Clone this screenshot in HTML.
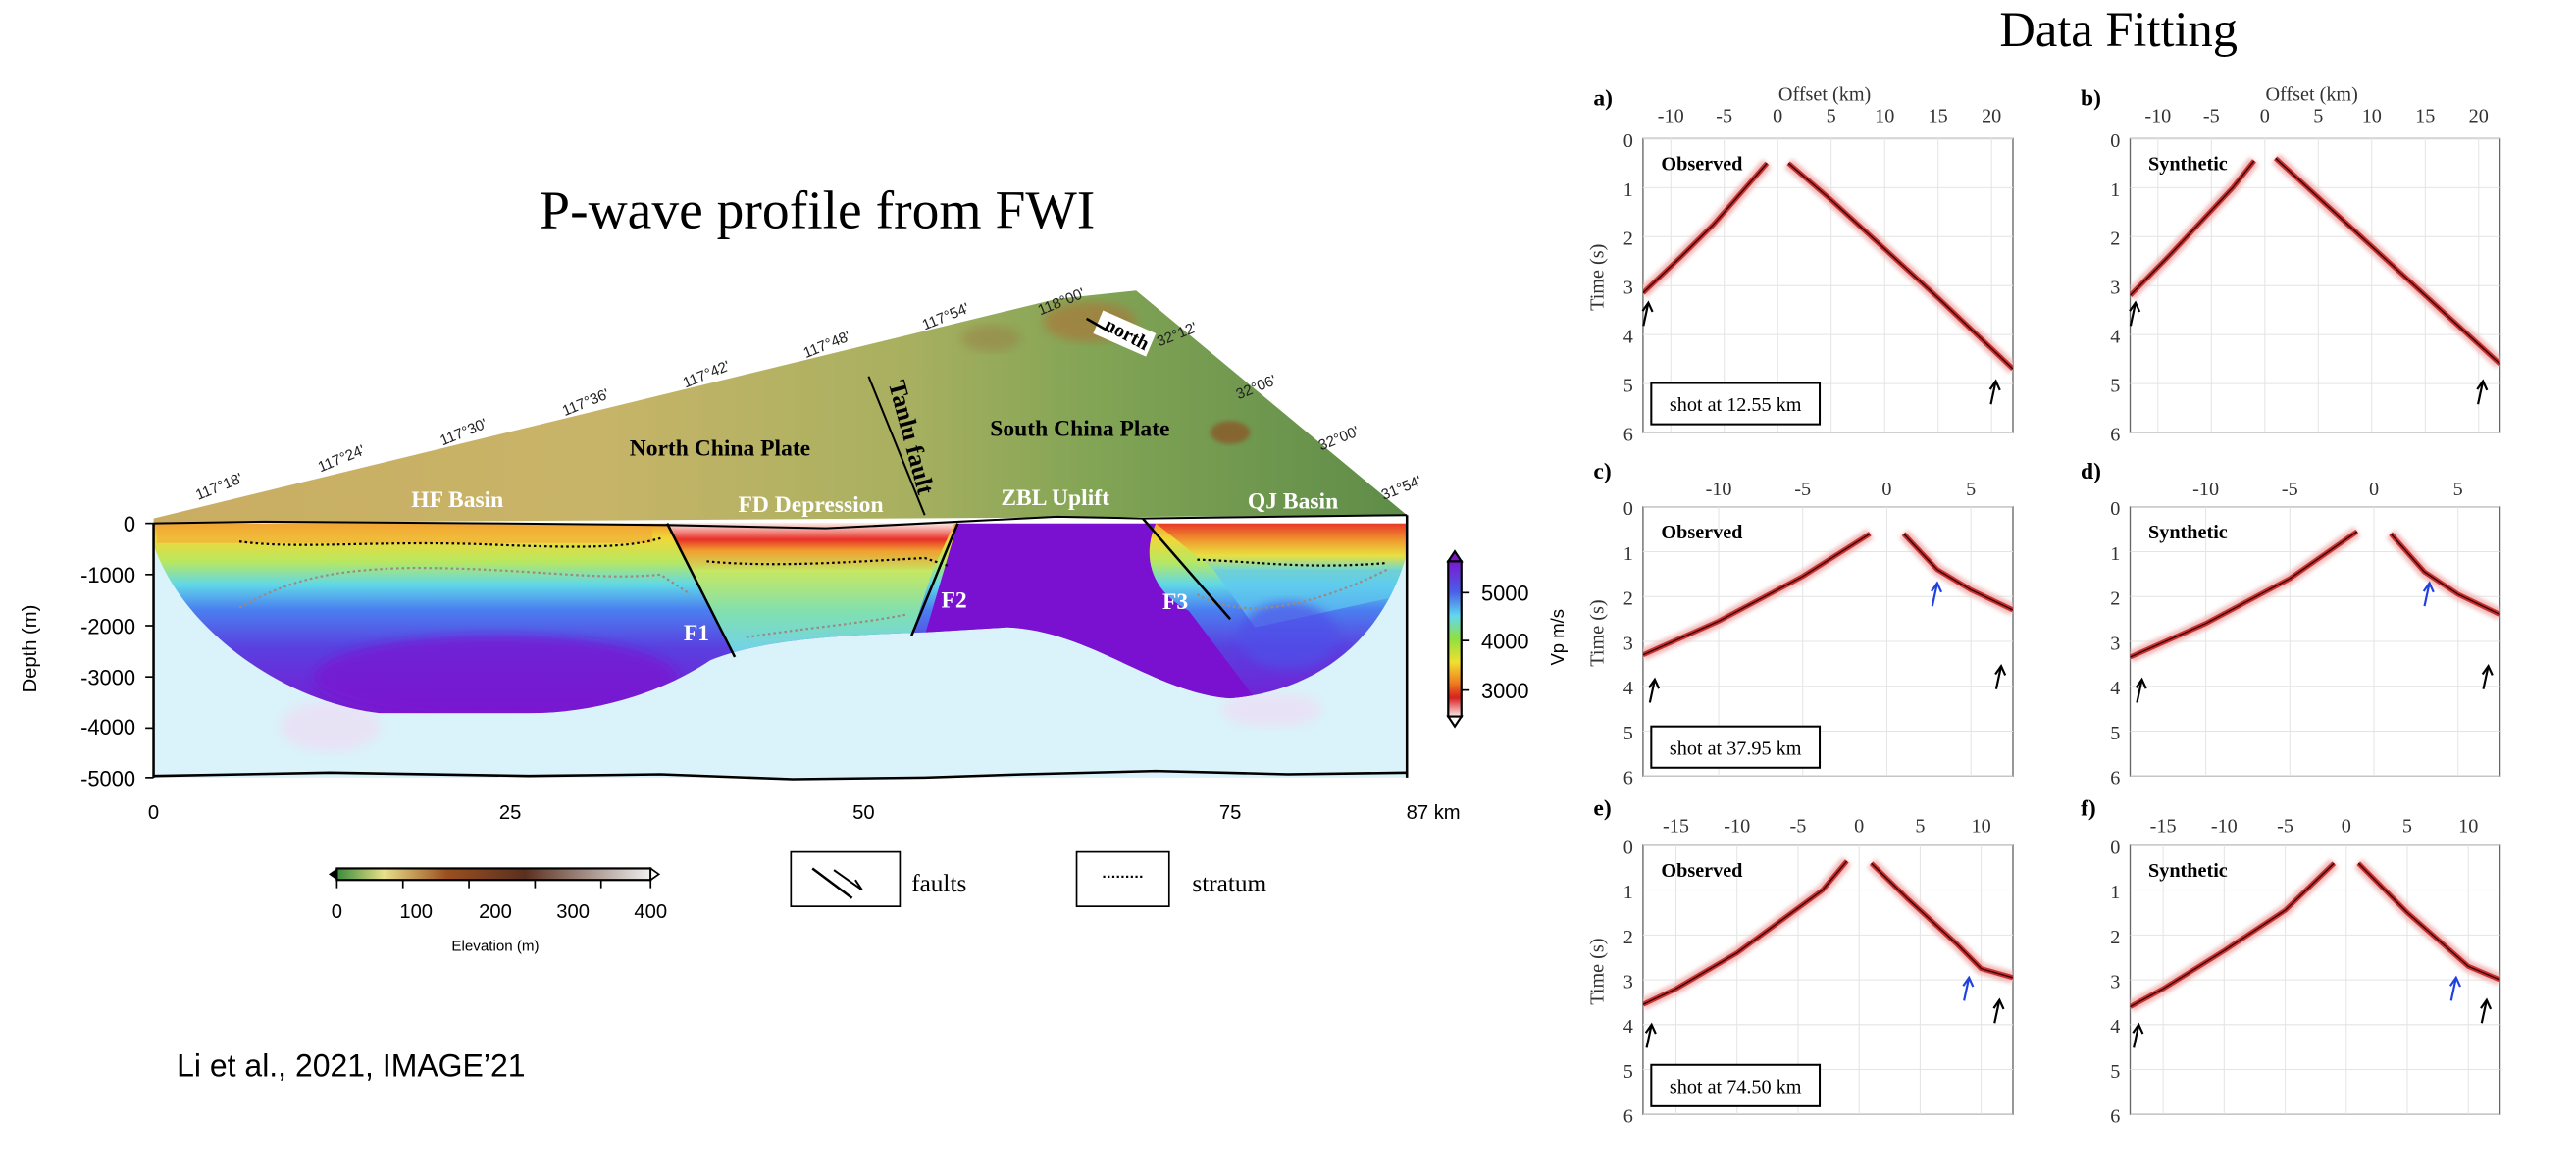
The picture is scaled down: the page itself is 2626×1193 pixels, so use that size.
<!DOCTYPE html>
<html><head><meta charset="utf-8"><style>
html,body{margin:0;padding:0;background:#fff;width:2626px;height:1193px;overflow:hidden}
svg{display:block}
.serif{font-family:"Liberation Serif",serif}
.sans{font-family:"Liberation Sans",sans-serif}
</style></head><body>
<svg id="fig" width="2626" height="1193" viewBox="0 0 1560 708.7" preserveAspectRatio="none" xmlns="http://www.w3.org/2000/svg">
<defs>
<linearGradient id="terr" x1="0" y1="0" x2="1" y2="0">
<stop offset="0" stop-color="#c9ad62"/><stop offset="0.35" stop-color="#c8b468"/><stop offset="0.6" stop-color="#a8b060"/><stop offset="0.75" stop-color="#82a455"/><stop offset="1" stop-color="#5e8c48"/></linearGradient>
<linearGradient id="vel" x1="0" y1="0" x2="0" y2="1">
<stop offset="0" stop-color="#f4a030"/><stop offset="0.08" stop-color="#f0d838"/><stop offset="0.2" stop-color="#b8e860"/><stop offset="0.32" stop-color="#60d8e8"/><stop offset="0.45" stop-color="#4a80f0"/><stop offset="0.65" stop-color="#5a40e0"/><stop offset="1" stop-color="#7a18d0"/></linearGradient>
<linearGradient id="fd" x1="0" y1="0" x2="0" y2="1">
<stop offset="0" stop-color="#fbe8e0"/><stop offset="0.35" stop-color="#e83028"/><stop offset="0.6" stop-color="#f0a030"/><stop offset="1" stop-color="#c8e060"/></linearGradient>
<linearGradient id="fdlow" x1="0" y1="0" x2="0" y2="1">
<stop offset="0" stop-color="#c8e860"/><stop offset="0.5" stop-color="#80e0b0"/><stop offset="1" stop-color="#70d0f0"/></linearGradient>
<linearGradient id="qj" x1="0" y1="0" x2="0" y2="1">
<stop offset="0" stop-color="#e83828"/><stop offset="0.4" stop-color="#f0a030"/><stop offset="0.7" stop-color="#e8e040"/><stop offset="1" stop-color="#70d8d0"/></linearGradient>
<linearGradient id="vpbar" x1="0" y1="0" x2="0" y2="1">
<stop offset="0" stop-color="#7a18d0"/><stop offset="0.2" stop-color="#4a60e8"/><stop offset="0.35" stop-color="#60d8f0"/><stop offset="0.5" stop-color="#90e040"/><stop offset="0.65" stop-color="#f0e030"/><stop offset="0.78" stop-color="#f08020"/><stop offset="0.88" stop-color="#d82020"/><stop offset="1" stop-color="#fbeaea"/></linearGradient>
<linearGradient id="elbar" x1="0" y1="0" x2="1" y2="0">
<stop offset="0" stop-color="#3a8a3a"/><stop offset="0.15" stop-color="#e8e08a"/><stop offset="0.35" stop-color="#9a5020"/><stop offset="0.6" stop-color="#5a3020"/><stop offset="1" stop-color="#f0f0f0"/></linearGradient>
<clipPath id="uclip"><path d="M93,317 L852,317 L852,335 C840,380 805,418 745,423 C700,420 660,382 610,380 L560,383 C500,385 460,388 430,400 C400,420 360,432 320,432 L230,432 C170,425 110,380 93,330 Z"/></clipPath>
<filter id="blur1"><feGaussianBlur stdDeviation="1.2"/></filter>
<filter id="blur3"><feGaussianBlur stdDeviation="3"/></filter>
</defs>

<text class="serif" x="495" y="138" font-size="33" text-anchor="middle">P-wave profile from FWI</text>
<text class="serif" x="1283" y="28" font-size="30" text-anchor="middle">Data Fitting</text>

<g>
<path d="M93,314 L640,181 L688,176 L852,312 L93,317 Z" fill="url(#terr)"/>
<ellipse cx="660" cy="195" rx="28" ry="12" fill="#a8783a" opacity="0.7" filter="url(#blur3)"/>
<ellipse cx="745" cy="262" rx="12" ry="7" fill="#8a5a2a" opacity="0.8" filter="url(#blur1)"/>
<ellipse cx="600" cy="205" rx="18" ry="8" fill="#9a6a3a" opacity="0.35" filter="url(#blur3)"/>
</g>
<g class="sans" font-size="9" fill="#222">
<text transform="translate(120,303) rotate(-22)">117°18'</text>
<text transform="translate(194,286) rotate(-22)">117°24'</text>
<text transform="translate(268,270) rotate(-22)">117°30'</text>
<text transform="translate(342,252) rotate(-22)">117°36'</text>
<text transform="translate(415,235) rotate(-22)">117°42'</text>
<text transform="translate(488,217) rotate(-22)">117°48'</text>
<text transform="translate(560,200) rotate(-22)">117°54'</text>
<text transform="translate(630,191) rotate(-22)">118°00'</text>
</g>
<g class="sans" font-size="9" fill="#222">
<text transform="translate(702,210) rotate(-22)">32°12'</text>
<text transform="translate(750,242) rotate(-22)">32°06'</text>
<text transform="translate(800,273) rotate(-22)">32°00'</text>
<text transform="translate(838,303) rotate(-22)">31°54'</text>
</g>
<g>
<polygon points="668,188 700,202 694,216 662,202" fill="#fff"/>
<text class="serif" font-weight="bold" font-size="12" transform="translate(668,199) rotate(28)">north</text>
<line x1="672" y1="201" x2="658" y2="193" stroke="#000" stroke-width="1.5"/>
</g>
<line x1="526" y1="228" x2="560" y2="312" stroke="#000" stroke-width="1.2"/>
<text class="serif" font-weight="bold" font-size="15" transform="translate(538,232) rotate(75)">Tanlu fault</text>
<text class="serif" font-weight="bold" font-size="14" x="436" y="276" text-anchor="middle">North China Plate</text>
<text class="serif" font-weight="bold" font-size="14" x="654" y="264" text-anchor="middle">South China Plate</text>
<g class="serif" font-weight="bold" font-size="14" fill="#fff" text-anchor="middle">
<text x="277" y="307">HF Basin</text>
<text x="491" y="310">FD Depression</text>
<text x="639" y="306">ZBL Uplift</text>
<text x="783" y="308">QJ Basin</text>
</g>

<g>
<rect x="93" y="317" width="759" height="154" fill="#daf2f9"/>
<ellipse cx="200" cy="440" rx="30" ry="15" fill="#f2d8f4" opacity="0.6" filter="url(#blur3)"/>
<ellipse cx="770" cy="430" rx="30" ry="10" fill="#f2d8f4" opacity="0.6" filter="url(#blur3)"/>
<g clip-path="url(#uclip)">
<rect x="93" y="317" width="759" height="116" fill="url(#vel)"/>
<path d="M580,317 L700,317 C690,340 700,360 720,370 L760,423 L600,423 L560,385 Z" fill="#7a10d0"/>
<path d="M418,345 L565,345 L552,385 L445,397 Z" fill="url(#fdlow)"/>
<path d="M405,317 L578,317 L565,345 L418,345 Z" fill="url(#fd)"/>
<path d="M700,317 L852,317 L852,345 L735,345 Z" fill="url(#qj)"/>
<path d="M735,345 L852,345 L852,360 L760,380 Z" fill="#60c8f0" opacity="0.7"/>
<rect x="95" y="317" width="300" height="12" fill="#f0a838" opacity="0.6"/>
<ellipse cx="300" cy="410" rx="110" ry="25" fill="#7a18d0" opacity="0.7" filter="url(#blur3)"/>
<ellipse cx="780" cy="385" rx="30" ry="20" fill="#5050e8" opacity="0.7" filter="url(#blur3)"/>
</g>
<path d="M93,317 L160,316 L300,317 L405,318 L500,320 L580,316 L640,313 L692,314 L852,312" fill="none" stroke="#000" stroke-width="1.2"/>
<path d="M93,470 L200,468 L320,470 L400,469 L480,472 L560,471 L620,469 L700,467 L780,469 L852,468" fill="none" stroke="#000" stroke-width="1.5"/>
<g stroke="#000" stroke-width="1.3" stroke-dasharray="1.5,1.8" fill="none">
<path d="M145,328 C180,333 230,327 300,330 C350,332 380,332 400,326"/>
<path d="M428,340 C470,344 520,340 560,338 L575,343"/>
<path d="M725,339 C760,340 790,345 840,341"/>
</g>
<g stroke="#9a8a80" stroke-width="1.3" stroke-dasharray="1.5,1.8" fill="none">
<path d="M145,368 C170,355 190,345 250,344 C320,344 360,352 400,348 L418,360"/>
<path d="M452,386 C490,380 520,378 550,372"/>
<path d="M725,360 C750,375 790,370 840,345"/>
</g>
<g stroke="#000" stroke-width="1.5">
<line x1="404" y1="317" x2="445" y2="398"/>
<line x1="580" y1="317" x2="552" y2="385"/>
<line x1="692" y1="314" x2="745" y2="375"/>
</g>
<g class="serif" font-weight="bold" font-size="14" fill="#fff">
<text x="414" y="388">F1</text>
<text x="570" y="368">F2</text>
<text x="704" y="369">F3</text>
</g>
<line x1="93" y1="317" x2="93" y2="471" stroke="#000" stroke-width="1.5"/>
<line x1="852" y1="312" x2="852" y2="471" stroke="#000" stroke-width="1.5"/>
</g>
<g class="sans" font-size="13" text-anchor="end">
<text x="82" y="322">0</text><text x="82" y="353">-1000</text><text x="82" y="384">-2000</text><text x="82" y="415">-3000</text><text x="82" y="445">-4000</text><text x="82" y="476">-5000</text>
</g>
<g stroke="#000" stroke-width="1"><line x1="88" y1="317" x2="93" y2="317"/><line x1="88" y1="348" x2="93" y2="348"/><line x1="88" y1="379" x2="93" y2="379"/><line x1="88" y1="410" x2="93" y2="410"/><line x1="88" y1="441" x2="93" y2="441"/><line x1="88" y1="471" x2="93" y2="471"/></g>
<text class="sans" font-size="12" transform="translate(22,393) rotate(-90)" text-anchor="middle">Depth (m)</text>
<g class="sans" font-size="12" text-anchor="middle">
<text x="93" y="496">0</text><text x="309" y="496">25</text><text x="523" y="496">50</text><text x="745" y="496">75</text><text x="868" y="496">87 km</text>
</g>

<g>
<rect x="877" y="340" width="8" height="94" fill="url(#vpbar)" stroke="#000" stroke-width="1.3"/>
<polygon points="877,340 881,334 885,340" fill="#7a18d0" stroke="#000" stroke-width="1.3"/>
<polygon points="877,434 881,440 885,434" fill="#fff" stroke="#000" stroke-width="1.3"/>
<g stroke="#000"><line x1="885" y1="359" x2="890" y2="359"/><line x1="885" y1="388" x2="890" y2="388"/><line x1="885" y1="418" x2="890" y2="418"/></g>
<g class="sans" font-size="13"><text x="897" y="364">5000</text><text x="897" y="393">4000</text><text x="897" y="423">3000</text></g>
<text class="sans" font-size="11" transform="translate(947,386) rotate(-90)" text-anchor="middle">Vp m/s</text>
</g>

<g>
<rect x="204" y="526" width="190" height="7" fill="url(#elbar)" stroke="#000" stroke-width="1.3"/>
<polygon points="204,526 199,529.5 204,533" fill="#000"/>
<polygon points="394,526 399,529.5 394,533" fill="#fff" stroke="#000"/>
<g stroke="#000"><line x1="204" y1="533" x2="204" y2="538"/><line x1="244" y1="533" x2="244" y2="538"/><line x1="284" y1="533" x2="284" y2="538"/><line x1="324" y1="533" x2="324" y2="538"/><line x1="364" y1="533" x2="364" y2="538"/><line x1="394" y1="533" x2="394" y2="538"/></g>
<g class="sans" font-size="12" text-anchor="middle"><text x="204" y="556">0</text><text x="252" y="556">100</text><text x="300" y="556">200</text><text x="347" y="556">300</text><text x="394" y="556">400</text></g>
<text class="sans" font-size="9" x="300" y="576" text-anchor="middle">Elevation (m)</text>
</g>
<g>
<rect x="479" y="516" width="66" height="33" fill="none" stroke="#000"/>
<line x1="492" y1="526" x2="516" y2="544" stroke="#000" stroke-width="1.5"/>
<path d="M505,527 L522,539 L518,533" fill="none" stroke="#000" stroke-width="1.2"/>
<text class="serif" font-size="15" x="552" y="540">faults</text>
</g>
<g>
<rect x="652" y="516" width="56" height="33" fill="none" stroke="#000"/>
<line x1="668" y1="531" x2="693" y2="531" stroke="#000" stroke-width="1.3" stroke-dasharray="1.3,1.5"/>
<text class="serif" font-size="15" x="722" y="540">stratum</text>
</g>
<text class="sans" font-size="19" x="107" y="652">Li et al., 2021, IMAGE’21</text>

<g id="panels"></g>
</svg>
<script>
const panelLetters = ["a)","b)","c)","d)","e)","f)"];
const panelTitles = ["Observed","Synthetic","Observed","Synthetic","Observed","Synthetic"];
const shotLabels = ["shot at 12.55 km","","shot at 37.95 km","","shot at 74.50 km",""];
const offsetRanges = [[-12.6,22],[-12.6,22],[-14.5,7.5],[-14.5,7.5],[-17.7,12.6],[-17.7,12.6]];
const offsetTicks = [[-10,-5,0,5,10,15,20],[-10,-5,0,5,10,15,20],[-10,-5,0,5],[-10,-5,0,5],[-15,-10,-5,0,5,10],[-15,-10,-5,0,5,10]];
const timeTicks = [0,1,2,3,4,5,6];
const leftOffsets = [
 [-1,-3,-6,-9,-12.6],[-1,-3,-6,-9,-12.6],
 [-1,-5,-10,-14.5],[-1,-5,-10,-14.5],
 [-1,-3,-6,-10,-15,-17.7],[-1,-5,-10,-15,-17.7]];
const leftTimes = [
 [0.5,1.0,1.75,2.4,3.15],[0.45,1.0,1.7,2.4,3.2],
 [0.6,1.55,2.55,3.3],[0.55,1.6,2.6,3.35],
 [0.35,1.0,1.6,2.4,3.2,3.55],[0.4,1.45,2.35,3.2,3.6]];
const rightOffsets = [
 [1,5,10,15,22],[1,5,10,15,22],
 [1,3,5,7.5],[1,3,5,7.5],
 [1,4,8,10,12.6],[1,5,10,12.6]];
const rightTimes = [
 [0.5,1.25,2.25,3.25,4.7],[0.4,1.2,2.2,3.2,4.6],
 [0.6,1.4,1.85,2.3],[0.6,1.45,1.95,2.4],
 [0.4,1.2,2.2,2.75,2.95],[0.4,1.5,2.7,3.0]];
const blackArrowX = [[-12.1,20.4],[-12.1,20.4],[-13.8,6.8],[-13.8,6.8],[-17,11.5],[-17,11.5]];
const blackArrowT = [[3.35,4.95],[3.35,4.95],[3.85,3.55],[3.85,3.55],[4.0,3.45],[4.0,3.45]];
const blueArrowX = [[],[],[3.0],[3.3],[9.0],[9.0]];
const blueArrowT = [[],[],[1.7],[1.7],[2.95],[2.95]];

const NS="http://www.w3.org/2000/svg";
const root=document.getElementById('panels');
const colL=[995,1290], colW=224;
const rowT=[84,307,512], rowB=[262,470,675];
const tickLabelY=[74,300,504];
function mk(tag,attrs,parent){const e=document.createElementNS(NS,tag);for(const k in attrs)e.setAttribute(k,attrs[k]);(parent||root).appendChild(e);return e;}
function arrow(g,x,y,color){
  const a=mk('g',{},g);
  
  
  mk('line',{x1:x-3,y1:y+14,x2:x,y2:y,stroke:color,'stroke-width':1.3},a);
  mk('polyline',{points:`${x-3.5},${y+5} ${x},${y} ${x+2.5},${y+5.5}`,fill:'none',stroke:color,'stroke-width':1.3},a);
}
for(let p=0;p<6;p++){
  const col=p%2,row=Math.floor(p/2);
  const L=colL[col],R=L+colW,T=rowT[row],B=rowB[row];
  const [x0,x1]=offsetRanges[p];
  const sx=v=>L+(v-x0)/(x1-x0)*(R-L);
  const sy=t=>T+t/6*(B-T);
  const g=mk('g',{});
  
  
  mk('rect',{x:L,y:T,width:R-L,height:B-T,fill:'#fff',stroke:'#666','stroke-width':0.8},g);
  for(const t of timeTicks){
    mk('line',{x1:L,y1:sy(t),x2:R,y2:sy(t),stroke:'#e4e4e4','stroke-width':0.6},g);
    const tl=mk('text',{x:L-6,y:sy(t)+5,'font-size':12,'text-anchor':'end',class:'serif',fill:'#333'},g);
    
    
    tl.textContent=t;
  }
  for(const o of offsetTicks[p]){
    mk('line',{x1:sx(o),y1:T,x2:sx(o),y2:B,stroke:'#e4e4e4','stroke-width':0.6},g);
    const ol=mk('text',{x:sx(o),y:tickLabelY[row],'font-size':12,'text-anchor':'middle',class:'serif',fill:'#333'},g);
    
    
    ol.textContent=o;
  }
  const lt=mk('text',{x:L-30,y:tickLabelY[row]-10,'font-size':14,'font-weight':'bold',class:'serif'},g);
  
  
  lt.textContent=panelLetters[p];
  if(row===0){
    const ot=mk('text',{x:(L+R)/2-2,y:61,'font-size':12,'text-anchor':'middle',class:'serif',fill:'#333'},g);
    
    
    ot.textContent='Offset (km)';
  }
  if(col===0){
    const tt=mk('text',{'font-size':12,'text-anchor':'middle',class:'serif',fill:'#333',transform:`translate(${L-24},${(T+B)/2-5}) rotate(-90)`},g);
    
    
    tt.textContent='Time (s)';
  }
  const clipId='pc'+p;
  const cp=mk('clipPath',{id:clipId},g);
  mk('rect',{x:L,y:T,width:R-L,height:B-T},cp);
  const cg=mk('g',{'clip-path':`url(#${clipId})`},g);
  const branches=[[leftOffsets[p],leftTimes[p]],[rightOffsets[p],rightTimes[p]]];
  for(const [xs,ts] of branches){
    const pts=xs.map((x,i)=>sx(x)+','+sy(ts[i])).join(' ');
    const h=mk('polyline',{points:pts,fill:'none',stroke:'#f0b8b8','stroke-width':7,filter:'url(#blur1)'},cg);
    
    
    const r=mk('polyline',{points:pts,fill:'none',stroke:'#c83030','stroke-width':3},cg);
    
    
    mk('polyline',{points:pts,fill:'none',stroke:'#300','stroke-width':0.8},cg);
  }
  const tl2=mk('text',{x:L+11,y:T+19,'font-size':12,'font-weight':'bold',class:'serif'},g);
  
  
  tl2.textContent=panelTitles[p];
  blackArrowX[p].forEach((x,i)=>arrow(g,sx(x),sy(blackArrowT[p][i]),'#000'));
  blueArrowX[p].forEach((x,i)=>arrow(g,sx(x),sy(blueArrowT[p][i]),'#2040e0'));
  if(shotLabels[p]){
    const bg=mk('g',{},g);
    
    
    mk('rect',{x:L+5,y:B-30,width:102,height:25,fill:'#fff',stroke:'#000','stroke-width':1.2},bg);
    const st=mk('text',{x:L+56,y:B-13,'font-size':12,'text-anchor':'middle',class:'serif'},bg);
    st.textContent=shotLabels[p];
  }
}
</script>
</body></html>
